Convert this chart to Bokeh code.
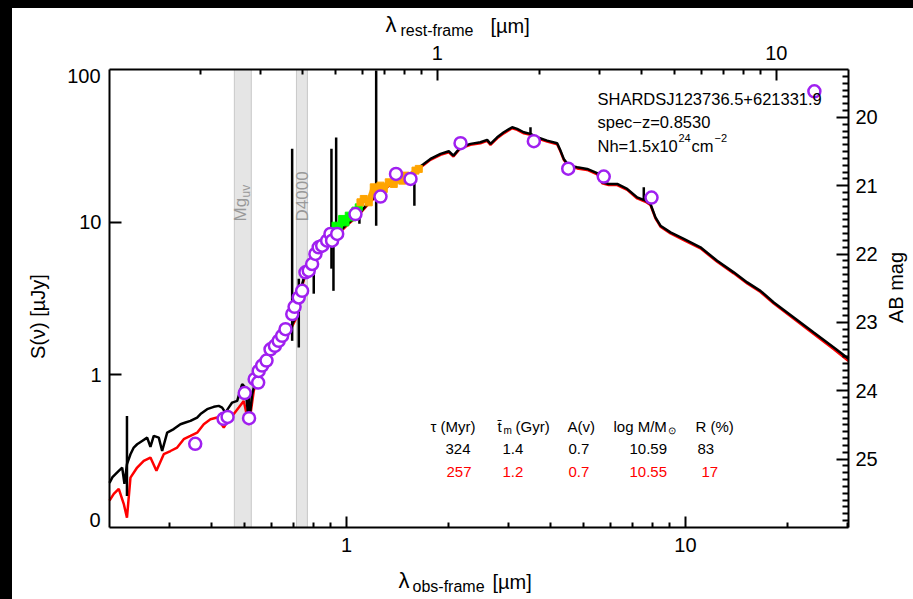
import numpy as np
from bokeh.plotting import figure
from bokeh.models import (Range1d, LogScale, LinearScale, LogAxis, LinearAxis, FixedTicker,
                          BasicTickFormatter, Label, Div)
from bokeh.layouts import column, row
from bokeh.embed import file_html
from bokeh.resources import INLINE

# ---------------- data ----------------
z = 0.853
# model 1 (black)
wl_black = [0.2000, 0.2041, 0.2083, 0.2130, 0.2180, 0.2214, 0.2252, 0.2306, 0.2358, 0.2413,
            0.2496, 0.2583, 0.2641, 0.2701, 0.2795, 0.2860, 0.2959, 0.3094, 0.3238, 0.3350,
            0.3466, 0.3627, 0.3710, 0.3882, 0.4061, 0.4201, 0.4299, 0.4394, 0.4494, 0.4601,
            0.4761, 0.4925, 0.5036, 0.5158, 0.5270, 0.5328, 0.5576, 0.5836, 0.6103, 0.6387,
            0.6683, 0.6836, 0.7073, 0.7234, 0.7404, 0.7571, 0.7830, 0.8195, 0.8570, 0.8971,
            0.9388, 1.0048, 1.0754, 1.177, 1.348, 1.545, 1.690, 1.769, 1.894, 2.004,
            2.068, 2.169, 2.322, 2.485, 2.600, 2.660, 2.783, 2.911, 3.082, 3.188,
            3.334, 3.490, 3.652, 3.908, 4.183, 4.279, 4.375, 4.526, 4.792, 5.129,
            5.489, 5.679, 5.938, 6.288, 6.730, 7.204, 7.621, 7.884, 8.155, 8.438,
            9.032, 9.885, 11.07, 12.40, 13.88, 15.21, 16.64, 18.22, 20.87, 23.90,
            27.39, 30.26]
s_black = [0.196, 0.214, 0.224, 0.235, 0.247, 0.193, 0.260, 0.302, 0.334, 0.351,
           0.369, 0.388, 0.337, 0.398, 0.388, 0.317, 0.418, 0.441, 0.475, 0.487,
           0.499, 0.525, 0.553, 0.596, 0.617, 0.626, 0.610, 0.566, 0.610, 0.658,
           0.675, 0.869, 0.826, 0.477, 0.747, 0.826, 1.175, 1.367, 1.510, 1.757,
           1.849, 2.043, 2.375, 3.057, 3.934, 4.686, 5.319, 6.030, 6.836, 7.561,
           8.369, 9.73, 11.03, 13.84, 17.88, 20.80, 24.08, 25.97, 28.01, 29.13,
           27.30, 30.94, 32.57, 33.37, 34.60, 32.57, 35.98, 38.81, 41.84, 40.84,
           38.81, 37.88, 35.98, 34.22, 32.86, 29.43, 25.97, 23.47, 22.88, 22.33,
           20.96, 18.24, 17.80, 17.80, 16.51, 14.54, 13.84, 13.16, 10.75, 9.48,
           8.57, 7.76, 6.84, 5.59, 4.69, 4.03, 3.55, 2.98, 2.375, 1.894,
           1.510, 1.273]
# model 2 (red)
wl_red = [0.2000, 0.2059, 0.2130, 0.2203, 0.2252, 0.2306, 0.2413, 0.2524, 0.2641, 0.2751,
          0.2891, 0.3026, 0.3167, 0.3311, 0.3466, 0.3627, 0.3794, 0.3970, 0.4155, 0.4346,
          0.4494, 0.4652, 0.4812, 0.4978, 0.5158, 0.5328, 0.5576, 0.5836, 0.6103, 0.6387,
          0.6683, 0.6836, 0.7073, 0.7234, 0.7404, 0.7571, 0.7830, 0.8195, 0.8570, 0.8971,
          0.9388, 1.0048, 1.0754, 1.177, 1.348, 1.545, 1.690,
          1.769, 1.894, 2.004, 2.068, 2.169, 2.322, 2.485, 2.600, 2.660, 2.783,
          2.911, 3.082, 3.188, 3.334, 3.490, 3.652, 3.908, 4.183, 4.279, 4.375,
          4.526, 4.792, 5.129, 5.489, 5.679, 5.938, 6.288, 6.730, 7.204, 7.621,
          7.884, 8.155, 8.438, 9.032, 9.885, 11.07, 12.40, 13.88, 15.21, 16.64,
          18.22, 20.87, 23.90, 27.39, 30.26]
s_red = [0.150, 0.166, 0.179, 0.143, 0.116, 0.212, 0.247, 0.273, 0.287, 0.235,
         0.302, 0.317, 0.334, 0.379, 0.398, 0.418, 0.475, 0.512, 0.525, 0.451,
         0.512, 0.553, 0.610, 0.675, 0.470, 0.785, 1.128, 1.312, 1.459, 1.696,
         1.775, 1.973, 2.294, 2.966, 3.833, 4.560, 5.186, 5.895, 6.703, 7.390,
         8.220, 9.560, 10.87, 13.63, 17.62, 20.49, 23.65,
         25.6, 27.6, 28.7, 26.9, 30.5, 32.1, 32.9, 34.1, 32.1, 35.4,
         38.2, 41.2, 40.2, 38.2, 37.3, 35.4, 33.7, 32.4, 29.0, 25.6,
         23.1, 22.5, 22.0, 20.6, 18.0, 17.5, 17.5, 16.3, 14.3, 13.6,
         12.95, 10.6, 9.34, 8.44, 7.64, 6.74, 5.50, 4.62, 3.97, 3.49,
         2.93, 2.33, 1.85, 1.47, 1.23]
# observed spectrum spikes (black)
spike_wl = [0.2252, 0.5158, 0.6915, 0.7234, 0.8007, 0.9031, 0.9155, 0.9324, 1.092, 1.2236, 1.5862, 3.490, 7.534]
spike_lo = [0.161, 0.477, 1.67, 1.51, 3.40, 4.96, 3.55, 7.56, 9.76, 9.48, 12.83, 37.9, 13.84]
spike_hi = [0.538, 0.77, 30.3, 4.26, 5.59, 30.3, 9.0, 35.8, 11.36, 98.5, 19.58, 41.8, 16.91]
# spectra (green, orange)
green_wl = [0.9074, 0.9281, 0.9490, 0.9712, 0.9932, 1.0157, 1.0395, 1.063, 1.087]
green_s = [8.37, 9.48, 9.02, 10.5, 9.97, 11.03, 10.75, 11.9, 12.5]
orange_wl = [1.0998, 1.1247, 1.1636, 1.2037, 1.2319, 1.260, 1.2885, 1.3327, 1.3791,
             1.4112, 1.4601, 1.4927, 1.545, 1.598, 1.6343]
orange_s = [13.49, 14.19, 13.49, 16.91, 16.09, 17.35, 16.51, 18.24, 17.80,
            19.20, 18.71, 20.18, 19.67, 21.76, 22.33]
# photometry
phot_wl = [0.358, 0.434, 0.446, 0.501, 0.516, 0.536, 0.549, 0.551, 0.564, 0.581,
           0.597, 0.615, 0.631, 0.646, 0.661, 0.692, 0.703, 0.723, 0.740, 0.757,
           0.774, 0.792, 0.810, 0.828, 0.848, 0.877, 0.897, 0.907, 0.939, 1.063,
           1.26, 1.40, 1.545, 2.17, 3.57, 4.51, 5.74, 7.94, 24.0]
phot_s = [0.353, 0.515, 0.530, 0.759, 0.520, 0.937, 0.890, 1.06, 1.15, 1.24,
          1.47, 1.55, 1.67, 1.80, 1.99, 2.50, 2.79, 3.21, 3.55, 4.69,
          4.81, 5.32, 6.19, 6.84, 7.01, 7.56, 8.37, 7.56, 8.37, 11.3,
          14.7, 20.7, 19.2, 32.9, 33.9, 22.4, 19.9, 14.5, 72.0]
# feature bands (obs-frame micron)
band_lo = [0.467, 0.712]
band_hi = [0.524, 0.767]
# table
tab_head = ["\u03c4 (Myr)", "t\u0304", "(Gyr)", "A(v)", "log M/M", "R (%)"]
row1 = ["324", "1.4", "0.7", "10.59", "83"]
row2 = ["257", "1.2", "0.7", "10.55", "17"]
x_ticks = [1, 10]
y_ticks = [1, 10]
mag_ticks = [20, 21, 22, 23, 24, 25]

# plot box (data limits) and its place in the 913x599 page
X0, X1 = 0.2, 30.26
Y0, Y1 = 0.1, 100.0
M_BOT, M_TOP = 26.0, 19.3
BOX_L, BOX_R, BOX_T, BOX_B = 109, 848, 69, 527
OX, OY = 12, 8                     # page offset of the figure (black strips)
W, H = 913 - OX, 599 - OY

FONT = "Liberation Sans"
PURPLE = "#a020f0"

# extend the ranges so that the frame fills the canvas and the box sits in place
ppd_x = (BOX_R - BOX_L) / np.log10(X1 / X0)
ppd_y = (BOX_B - BOX_T) / np.log10(Y1 / Y0)
ppm = (BOX_B - BOX_T) / (M_BOT - M_TOP)
xs = 10 ** (np.log10(X0) - (BOX_L - OX) / ppd_x)
xe = 10 ** (np.log10(X1) + (913 - BOX_R) / ppd_x)
ys = 10 ** (np.log10(Y0) - (599 - BOX_B) / ppd_y)
ye = 10 ** (np.log10(Y1) + (BOX_T - OY) / ppd_y)
ms = M_BOT + (599 - BOX_B) / ppm
me = M_TOP - (BOX_T - OY) / ppm

p = figure(width=W, height=H, x_axis_type="log", y_axis_type="log",
           x_range=Range1d(xs, xe), y_range=Range1d(ys, ye),
           output_backend="svg", toolbar_location=None, min_border=0)
p.margin = 0
p.background_fill_color = "white"
p.border_fill_color = "white"
p.outline_line_color = None
p.xgrid.visible = False
p.ygrid.visible = False

def style_axis(ax, standoff):
    ax.axis_line_width = 2
    ax.major_tick_line_width = 2
    ax.minor_tick_line_width = 2
    ax.major_tick_in = 11
    ax.major_tick_out = 0
    ax.minor_tick_in = 5
    ax.minor_tick_out = 0
    ax.major_label_text_font = FONT
    ax.major_label_text_font_size = "20px"
    ax.major_label_text_color = "black"
    ax.major_label_standoff = standoff

xa = p.xaxis[0]
xa.fixed_location = Y0
xa.bounds = (X0, X1)
xa.ticker = FixedTicker(ticks=x_ticks, minor_ticks=[0.3, 0.4, 0.5, 0.6, 0.7, 0.8, 0.9,
                                                    2, 3, 4, 5, 6, 7, 8, 9, 20, 30])
xa.formatter = BasicTickFormatter(use_scientific=False)
xa.major_label_overrides = {1: "1", 10: "10"}
style_axis(xa, 10)

ya = p.yaxis[0]
ya.fixed_location = X0
ya.bounds = (Y0, Y1)
ya.ticker = FixedTicker(ticks=y_ticks, minor_ticks=[])
ya.formatter = BasicTickFormatter(use_scientific=False)
ya.major_label_overrides = {1: "1", 10: "10"}
style_axis(ya, 8)
ya.major_tick_in = 12

p.extra_x_ranges = {"rest": Range1d(xs / (1 + z), xe / (1 + z))}
p.extra_x_scales = {"rest": LogScale()}
top = LogAxis(x_range_name="rest", fixed_location=Y1, bounds=(X0 / (1 + z), X1 / (1 + z)))
top.ticker = FixedTicker(ticks=x_ticks, minor_ticks=[0.2, 0.3, 0.4, 0.5, 0.6, 0.7, 0.8, 0.9,
                                                     2, 3, 4, 5, 6, 7, 8, 9])
top.formatter = BasicTickFormatter(use_scientific=False)
top.major_label_overrides = {1: "1", 10: "10"}
style_axis(top, 10)
p.add_layout(top, "above")

p.extra_y_ranges = {"mag": Range1d(ms, me)}
p.extra_y_scales = {"mag": LinearScale()}
right = LinearAxis(y_range_name="mag", fixed_location=X1, bounds=(M_TOP, M_BOT))
minor_mag = [round(v, 1) for v in np.arange(19.4, 26.0, 0.1) if abs(v - round(v)) > 0.01]
right.ticker = FixedTicker(ticks=mag_ticks, minor_ticks=minor_mag)
style_axis(right, 7)
right.major_tick_in = 12
right.minor_tick_in = 6
p.add_layout(right, "right")

# bands
p.quad(left=band_lo, right=band_hi, bottom=Y0, top=Y1, fill_color="#e5e5e5",
       line_color="#c8c8c8", line_width=1, level="underlay")

# models
p.line(wl_red, s_red, color="red", line_width=2.5)
p.line(wl_black, s_black, color="black", line_width=2.5)
p.segment(x0=spike_wl, y0=spike_lo, x1=spike_wl, y1=spike_hi, color="black", line_width=2.5)

# spectra
p.line(green_wl, green_s, color="#00ff00", line_width=6)
p.scatter(green_wl, green_s, marker="square", size=7, color="#00ff00")
p.line(orange_wl, orange_s, color="#ffa500", line_width=6)
p.scatter(orange_wl, orange_s, marker="square", size=7, color="#ffa500")

# photometry
p.scatter(phot_wl, phot_s, marker="circle", size=12, fill_color="white",
          line_color=PURPLE, line_width=2.5)

def lab(text, x, y, size="20px", color="black", align="left", baseline="alphabetic", angle=0):
    p.add_layout(Label(x=x - OX, y=y - OY, x_units="canvas", y_units="canvas", text=text,
                       text_font=FONT, text_font_size=size, text_color=color,
                       text_align=align, text_baseline=baseline, angle=angle))

# extreme y tick labels
lab("100", 100, 75, align="right", baseline="middle")
lab("0", 100, 519, align="right", baseline="middle")

# axis titles
lab("\u03bb", 398, 580, size="22px")
lab("obs-frame", 412, 586, size="16px")
lab("[\u00b5m]", 492, 581)
lab("\u03bb", 385, 24, size="22px")
lab("rest-frame", 400, 30, size="16px")
lab("[\u00b5m]", 490, 25)
lab("S(\u03bd) [\u00b5Jy]", 37, 316, align="center", baseline="middle", angle=np.pi / 2)
lab("AB mag", 895, 287, align="center", baseline="middle", angle=np.pi / 2)

# band labels
lab("Mg", 240, 221, size="17px", color="#999999", baseline="middle", angle=np.pi / 2)
lab("uv", 245, 197, size="12px", color="#999999", baseline="middle", angle=np.pi / 2)
lab("D4000", 302, 221, size="17px", color="#999999", baseline="middle", angle=np.pi / 2)

# object info
lab("SHARDSJ123736.5+621331.9", 597, 98, size="16.5px")
lab("spec\u2212z=0.8530", 597, 121, size="16.5px")
lab("Nh=1.5x10", 597, 145, size="16.5px")
lab("24", 678, 137, size="11px")
lab("cm", 691, 145, size="16.5px")
lab("\u22122", 714, 137, size="11px")

# table
hx = [430, 497, 515, 567, 613, 695]
for t, x in zip(tab_head, hx):
    lab(t, x, 426, size="15px")
lab("m", 503, 430, size="10px")
lab("\u2299", 667, 430, size="10px")
r1x = [445, 502, 568, 629, 697]
r2x = [446, 502, 568, 629, 701]
for t, x in zip(row1, r1x):
    lab(t, x, 448, size="15px")
for t, x in zip(row2, r2x):
    lab(t, x, 471, size="15px", color="red")

top_strip = Div(width=913, height=OY, margin=0, styles={"background-color": "black"})
left_strip = Div(width=OX, height=H, margin=0, styles={"background-color": "black"})
layout = column(top_strip, row(left_strip, p, spacing=0), spacing=0)

open("out.html", "w").write(file_html(layout, INLINE))
